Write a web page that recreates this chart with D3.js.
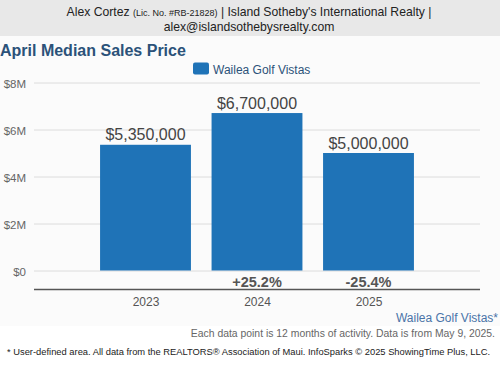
<!DOCTYPE html>
<html>
<head>
<meta charset="utf-8">
<script src="https://cdn.jsdelivr.net/npm/d3@7"></script>
<style>
  body { margin: 0; background: #fff; }
  svg { display: block; font-family: "Liberation Sans", Arial, sans-serif; }
</style>
</head>
<body>
<svg id="chart" width="500" height="375"></svg>
<script>
// chart data
let years = ["2023", "2024", "2025"];
let prices = [5350000, 6700000, 5000000];
let changes = [null, "+25.2%", "-25.4%"];
let yTicks = [0, 2000000, 4000000, 6000000, 8000000];
let seriesName = "Wailea Golf Vistas";

let SVG = d3.select("#chart");
let W = 500, H = 375;

// header band with agent info
SVG.append("rect").attr("width", W).attr("height", 36).attr("fill", "#e8e8e8");
let line1 = SVG.append("text")
    .attr("x", 249).attr("y", 15.5)
    .attr("text-anchor", "middle")
    .style("font-size", "12.2px")
    .attr("fill", "#222");
line1.append("tspan").text("Alex Cortez ");
line1.append("tspan").style("font-size", "9px").text("(Lic. No. #RB-21828)");
line1.append("tspan").text(" | Island Sotheby's International Realty |");
SVG.append("text")
    .attr("x", 249).attr("y", 30.5)
    .attr("text-anchor", "middle")
    .style("font-size", "12.2px")
    .attr("fill", "#222")
    .text("alex@islandsothebysrealty.com");

// faint panel behind chart
SVG.append("rect").attr("y", 36).attr("width", W).attr("height", 290).attr("fill", "#fbfbfb");

SVG.append("text")
    .attr("x", 0).attr("y", 56)
    .style("font-size", "16px")
    .style("font-weight", "bold")
    .attr("fill", "#2b5279")
    .text("April Median Sales Price");

// legend
SVG.append("rect")
    .attr("x", 193).attr("y", 62.5)
    .attr("width", 16).attr("height", 12)
    .attr("rx", 2)
    .attr("fill", "#1f73b7");
SVG.append("text")
    .attr("x", 213).attr("y", 73.5)
    .style("font-size", "12px")
    .attr("fill", "#2b5279")
    .text(seriesName);

let margin = {left: 34, right: 20};
let x = d3.scalePoint().domain(years).range([margin.left, W - margin.right]).padding(1);
let y = d3.scaleLinear().domain([0, 8000000]).range([270.5, 82.5]);
let barW = x.step() * 0.815;

// gridlines + y labels
let yAxis = d3.axisLeft(y)
    .tickValues(yTicks)
    .tickSize(-(W - margin.right - margin.left))
    .tickPadding(8)
    .tickFormat(d => d === 0 ? "$0" : "$" + (d / 1e6) + "M");
let yG = SVG.append("g")
    .attr("transform", "translate(" + margin.left + ",0)")
    .call(yAxis);
yG.select(".domain").remove();
yG.selectAll(".tick line").attr("stroke", "#dcdcdc").attr("stroke-width", 1);
yG.selectAll(".tick text")
    .attr("fill", "#666")
    .attr("dy", "0.45em")
    .style("font-size", "11.5px")
    .style("font-family", "'Liberation Sans', Arial, sans-serif");

// bars
SVG.selectAll(".bar")
    .data(prices)
    .enter()
    .append("rect")
    .attr("class", "bar")
    .attr("x", (d, i) => x(years[i]) - barW / 2)
    .attr("y", d => y(d))
    .attr("width", barW)
    .attr("height", d => y(0) - y(d))
    .attr("fill", "#1f73b7");

// value labels
SVG.selectAll(".val")
    .data(prices)
    .enter()
    .append("text")
    .attr("class", "val")
    .attr("x", (d, i) => x(years[i]))
    .attr("y", d => y(d) - 4.5)
    .attr("text-anchor", "middle")
    .style("font-size", "16px")
    .attr("fill", "#444")
    .text(d => d3.format("$,")(d));

// year-over-year change
SVG.selectAll(".chg")
    .data(changes)
    .enter()
    .append("text")
    .attr("class", "chg")
    .attr("x", (d, i) => x(years[i]))
    .attr("y", 287)
    .attr("text-anchor", "middle")
    .style("font-size", "14.5px")
    .style("font-weight", "bold")
    .attr("fill", "#555")
    .text(d => d || "");

// x axis
let xAxis = d3.axisBottom(x).tickSize(0).tickPadding(8);
let xG = SVG.append("g")
    .attr("transform", "translate(0,289.5)")
    .call(xAxis);
xG.select(".domain").attr("stroke", "#555").attr("stroke-width", 1.5)
    .attr("d", "M" + margin.left + ",0H" + (W - margin.right));
xG.selectAll(".tick text")
    .attr("fill", "#555")
    .style("font-size", "12px")
    .style("font-family", "'Liberation Sans', Arial, sans-serif");

// footer notes
SVG.append("text")
    .attr("x", 498).attr("y", 321.5)
    .attr("text-anchor", "end")
    .style("font-size", "12px")
    .attr("fill", "#4a74a8")
    .text(seriesName + "*");
SVG.append("text")
    .attr("x", 495).attr("y", 336.5)
    .attr("text-anchor", "end")
    .style("font-size", "10.4px")
    .attr("fill", "#666")
    .text("Each data point is 12 months of activity. Data is from May 9, 2025.");
SVG.append("text")
    .attr("x", 7).attr("y", 355)
    .style("font-size", "9.35px")
    .attr("fill", "#222")
    .text("* User-defined area. All data from the REALTORS\u00ae Association of Maui. InfoSparks \u00a9 2025 ShowingTime Plus, LLC.");
</script>
</body>
</html>
